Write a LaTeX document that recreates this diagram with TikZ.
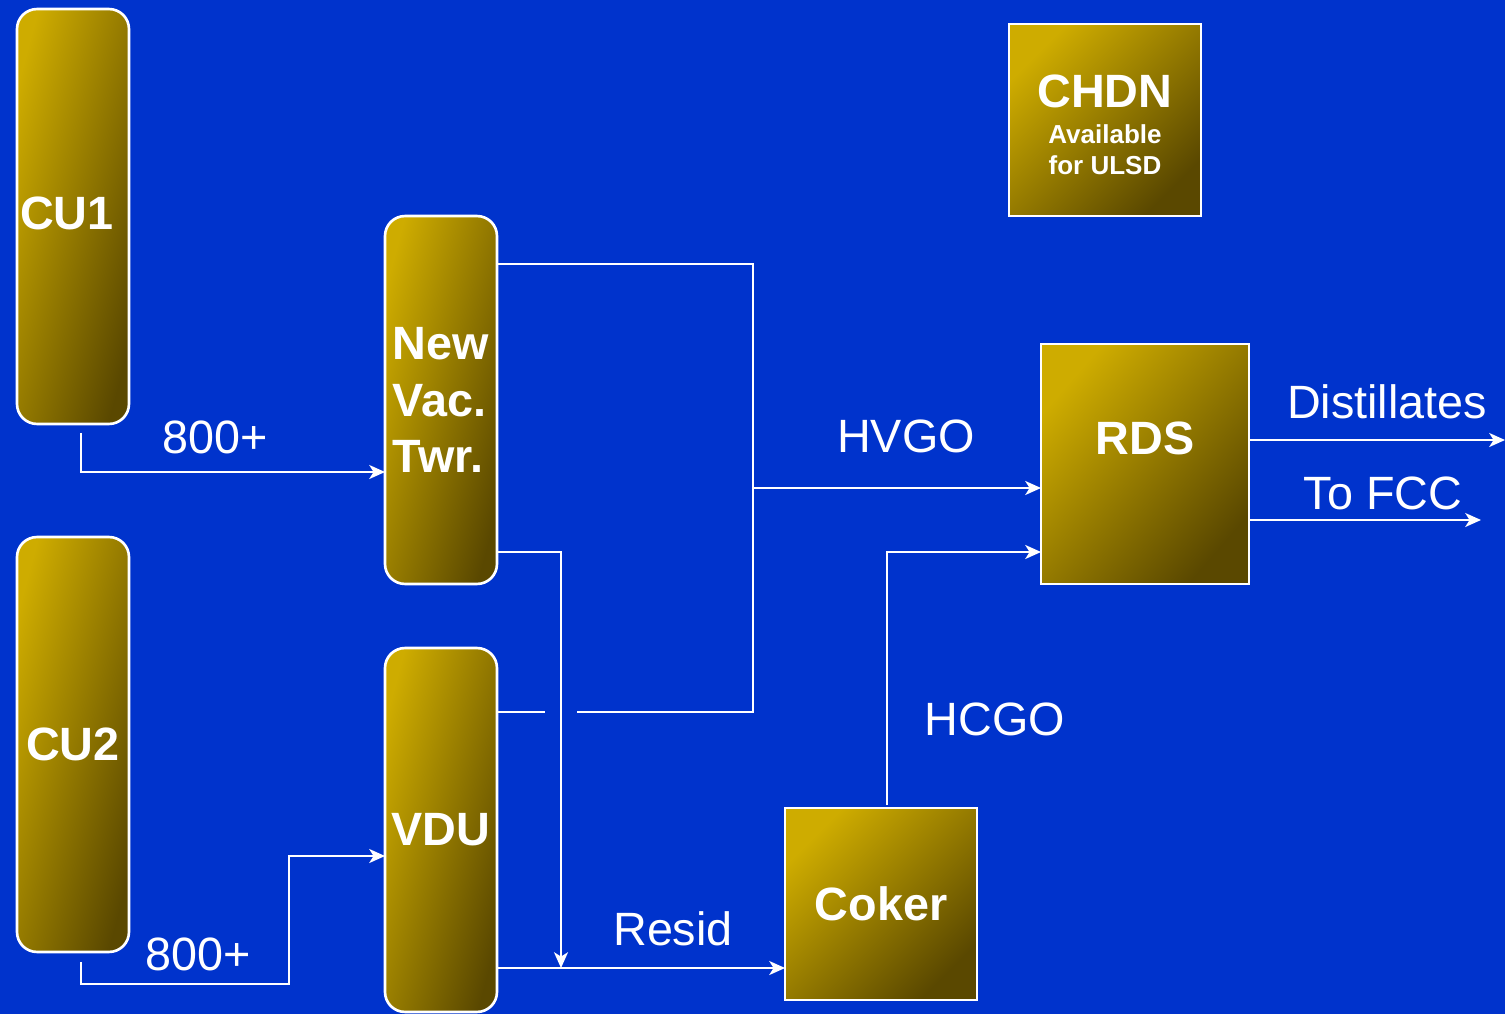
\documentclass[tikz,border=0pt]{standalone}
\usepackage{fontspec}
\setmainfont{Liberation Sans}
\usetikzlibrary{arrows.meta}
\definecolor{bgblue}{RGB}{0,51,204}
\definecolor{goldA}{RGB}{206,172,0}
\definecolor{goldB}{RGB}{90,72,0}
\begin{document}
\begin{tikzpicture}[x=0.02cm,y=-0.02cm,
  unit/.style={draw=white, line width=1.5pt, top color=goldA, bottom color=goldB, shading angle=45,
    outer sep=0pt, inner sep=0pt, text=white, font=\bfseries\fontsize{26.6}{32.3}\selectfont},
  tower/.style={unit, rounded corners=0.4cm, shading angle=75},
  pipe/.style={draw=white, line width=1.1pt},
  flow/.style={pipe, -{Stealth[length=9pt,width=8pt,inset=2.5pt]}},
  lbl/.style={text=white, font=\fontsize{26.6}{32}\selectfont, inner sep=0pt, anchor=base},
  blbl/.style={lbl, font=\bfseries\fontsize{26.6}{32}\selectfont}]
\useasboundingbox (0,0) rectangle (1505,1014);
\fill[bgblue] (0,0) rectangle (1505,1014);

% units
\node[tower, minimum width=2.24cm, minimum height=8.3cm] (cu1) at (73,216.5) {\raisebox{0.14cm}{CU1\hspace{0.24cm}}};
\node[tower, minimum width=2.24cm, minimum height=8.3cm] (cu2) at (73,744.5) {CU2};
\node[tower, minimum width=2.24cm, minimum height=7.36cm, align=left] (nvt) at (441,400) {New\\Vac.\\Twr.};
\node[tower, minimum width=2.24cm, minimum height=7.28cm] (vdu) at (441,830) {VDU};
\node[unit, minimum width=3.84cm, minimum height=3.84cm] (chdn) at (1105,120) {};
\node[unit, minimum width=4.16cm, minimum height=4.8cm, shading angle=49] (rds) at (1145,464) {};
\node[unit, minimum width=3.84cm, minimum height=3.84cm] (coker) at (881,904) {Coker};

% texts inside boxes
\node[blbl] (chdnT) at (1105,107) {CHDN};
\node[lbl, font=\bfseries\fontsize{14.8}{18}\selectfont] (chdnA) at (1105,143) {Available};
\node[lbl, font=\bfseries\fontsize{14.8}{18}\selectfont] (chdnB) at (1105,174) {for ULSD};
\node[blbl] (rdsT) at (1145,454) {RDS};

% connectors
\draw[flow] ([xshift=0.16cm,yshift=-0.18cm]cu1.south) |- (nvt.west |- 0,472);
\draw[flow] ([xshift=0.16cm,yshift=-0.2cm]cu2.south) |- (289,984) |- (vdu.west |- 0,856);

\coordinate (hv) at (753,488);
\draw[pipe] (nvt.east |- 0,264) -| (753,712) -- (577,712);
\draw[pipe] (vdu.east |- 0,712) -- (545,712);
\draw[flow] (hv) -- (rds.west |- hv);

\draw[flow] (nvt.east |- 0,552) -| (561,968);
\draw[flow] (vdu.east |- 0,968) -- (coker.west |- 0,968);

\draw[flow] ([yshift=0.06cm]coker.north -| 887,0) |- (rds.west |- 0,552);

\coordinate (distEnd) at (1505,440);
\coordinate (fccEnd) at (1481,520);
\draw[flow] (rds.east |- distEnd) -- (distEnd);
\draw[flow] (rds.east |- fccEnd) -- (fccEnd);

% labels
\node[lbl] (l800a) at (215,453) {800+};
\node[lbl] (l800b) at (198,970) {800+};
\node[lbl] (lhvgo) at (906,452) {HVGO};
\node[lbl] (lresid) at (673,945) {Resid};
\node[lbl] (lhcgo) at (995,735) {HCGO};
\node[lbl] (ldist) at (1387,418) {Distillates};
\node[lbl] (lfcc) at (1383,509) {To FCC};
\end{tikzpicture}
\end{document}
